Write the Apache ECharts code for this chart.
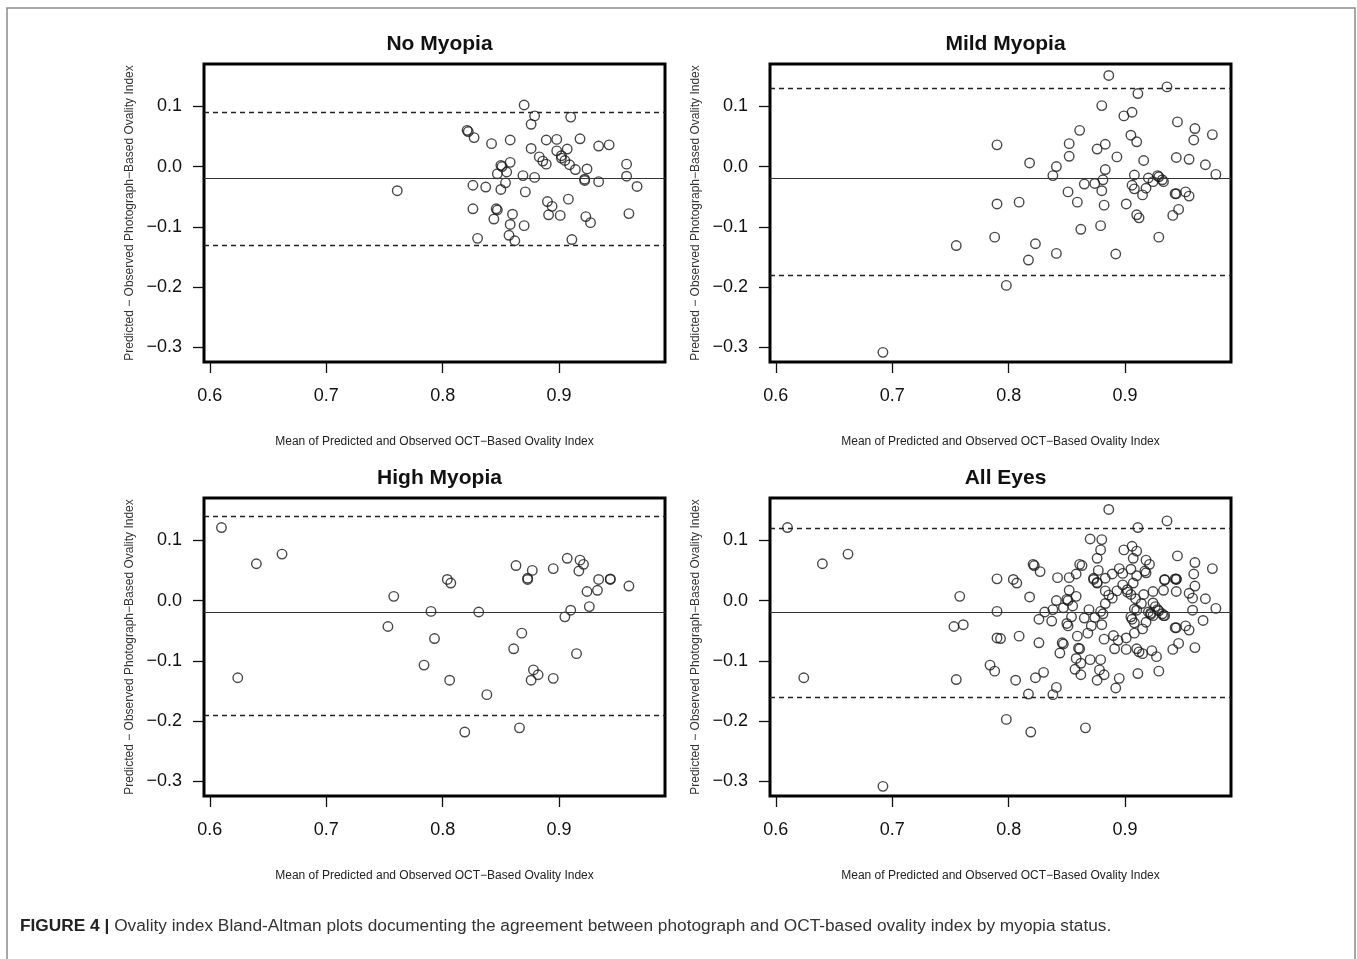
<!DOCTYPE html>
<html><head><meta charset="utf-8">
<script src="https://cdn.jsdelivr.net/npm/echarts@6/dist/echarts.min.js"></script>
<style>html,body{margin:0;padding:0;background:#fff}#c{width:1357px;height:959px}</style>
</head><body><div id="c"></div>
<script>
// ---------- data ----------
const panelTitles = ['No Myopia', 'Mild Myopia', 'High Myopia', 'All Eyes'];

// [mean of predicted & observed, predicted - observed]
const noMyopia = [
  [0.870,0.102],[0.879,0.084],[0.876,0.070],[0.910,0.082],[0.821,0.060],[0.822,0.058],
  [0.827,0.048],[0.842,0.038],[0.858,0.044],[0.889,0.044],[0.898,0.045],[0.918,0.046],
  [0.934,0.034],[0.943,0.036],[0.876,0.030],[0.898,0.026],[0.907,0.029],[0.883,0.016],
  [0.886,0.009],[0.889,0.004],[0.902,0.018],[0.902,0.014],[0.905,0.010],[0.909,0.003],
  [0.914,-0.005],[0.924,-0.004],[0.850,0.002],[0.851,0.000],[0.858,0.007],[0.847,-0.012],
  [0.855,-0.009],[0.869,-0.015],[0.879,-0.018],[0.922,-0.021],[0.922,-0.023],[0.958,0.004],
  [0.958,-0.016],[0.967,-0.033],[0.934,-0.025],[0.761,-0.040],[0.826,-0.031],[0.837,-0.034],
  [0.854,-0.027],[0.850,-0.038],[0.871,-0.042],[0.826,-0.070],[0.846,-0.070],[0.847,-0.072],
  [0.844,-0.087],[0.860,-0.079],[0.858,-0.096],[0.870,-0.098],[0.857,-0.114],[0.862,-0.123],
  [0.830,-0.119],[0.890,-0.058],[0.894,-0.066],[0.891,-0.080],[0.901,-0.081],[0.908,-0.054],
  [0.923,-0.083],[0.927,-0.093],[0.911,-0.121],[0.960,-0.078]
];
const mildMyopia = [
  [0.790,0.036],[0.790,-0.062],[0.788,-0.117],[0.755,-0.131],[0.692,-0.308],[0.798,-0.197],
  [0.886,0.151],[0.936,0.132],[0.911,0.121],[0.880,0.101],[0.899,0.084],[0.906,0.090],
  [0.945,0.074],[0.960,0.063],[0.959,0.044],[0.975,0.053],[0.861,0.060],[0.905,0.052],
  [0.910,0.041],[0.852,0.038],[0.883,0.037],[0.876,0.029],[0.852,0.017],[0.893,0.016],
  [0.916,0.010],[0.944,0.015],[0.955,0.012],[0.969,0.003],[0.978,-0.013],[0.818,0.006],
  [0.841,0.000],[0.838,-0.015],[0.883,-0.005],[0.881,-0.022],[0.865,-0.029],[0.874,-0.028],
  [0.880,-0.040],[0.908,-0.014],[0.906,-0.031],[0.908,-0.037],[0.918,-0.036],[0.915,-0.047],
  [0.920,-0.019],[0.924,-0.025],[0.928,-0.015],[0.929,-0.017],[0.932,-0.022],[0.933,-0.025],
  [0.943,-0.045],[0.944,-0.045],[0.952,-0.042],[0.955,-0.049],[0.946,-0.071],[0.941,-0.081],
  [0.851,-0.042],[0.859,-0.059],[0.882,-0.064],[0.901,-0.062],[0.910,-0.080],[0.912,-0.085],
  [0.809,-0.059],[0.862,-0.104],[0.879,-0.098],[0.823,-0.128],[0.817,-0.155],[0.841,-0.144],
  [0.892,-0.145],[0.929,-0.117]
];
const highMyopia = [
  [0.610,0.121],[0.640,0.061],[0.662,0.077],[0.624,-0.128],[0.758,0.007],[0.753,-0.043],
  [0.804,0.035],[0.807,0.029],[0.790,-0.018],[0.793,-0.063],[0.784,-0.107],[0.806,-0.132],
  [0.831,-0.019],[0.838,-0.156],[0.819,-0.218],[0.863,0.058],[0.873,0.037],[0.873,0.035],
  [0.877,0.050],[0.895,0.053],[0.907,0.070],[0.918,0.067],[0.921,0.060],[0.917,0.049],
  [0.934,0.035],[0.944,0.036],[0.944,0.035],[0.960,0.024],[0.924,0.015],[0.933,0.017],
  [0.926,-0.010],[0.910,-0.016],[0.905,-0.027],[0.868,-0.054],[0.861,-0.080],[0.915,-0.088],
  [0.878,-0.115],[0.882,-0.123],[0.876,-0.132],[0.895,-0.129],[0.866,-0.211]
];
const allEyes = noMyopia.concat(mildMyopia, highMyopia);

const meanDiff = [-0.0166, -0.0243, -0.0224, -0.0209];
const upperLoA = [0.0929, 0.1280, 0.1426, 0.1206];
const lowerLoA = [-0.1260, -0.1770, -0.1868, -0.1625];

const xTicks = [0.6, 0.7, 0.8, 0.9];
const yTicks = [-0.3, -0.2, -0.1, 0.0, 0.1];
const xRange = [0.595, 0.991];
const yRange = [-0.324, 0.170];

const xName = 'Mean of Predicted and Observed OCT\u2212Based Ovality Index';
const yName = 'Predicted \u2212 Observed Photograph\u2212Based Ovality Index';
const caption = 'Ovality index Bland-Altman plots documenting the agreement between photograph and OCT-based ovality index by myopia status.';

// ---------- layout ----------
const FONT = "'Liberation Sans', Arial, Helvetica, sans-serif";
const panelData = [noMyopia, mildMyopia, highMyopia, allEyes];
const gridPos = [
  {left: 204, top: 64}, {left: 770, top: 64},
  {left: 204, top: 498}, {left: 770, top: 498}
];
const GW = 461, GH = 298;

const fmt = v => (v < -1e-9 ? '\u2212' : '') + Math.abs(v).toFixed(1);

const grids = [], xAxes = [], yAxes = [], series = [], titles = [];
panelData.forEach((d, i) => {
  grids.push({left: gridPos[i].left, top: gridPos[i].top, width: GW, height: GH,
    show: true, borderColor: '#000', borderWidth: 3, backgroundColor: 'transparent', containLabel: false});
  xAxes.push({type: 'value', gridIndex: i, min: xRange[0], max: xRange[1], position: 'bottom',
    axisLine: {show: false, onZero: false}, splitLine: {show: false},
    axisTick: {show: true, length: 11, lineStyle: {color: '#111', width: 1.3}, customValues: xTicks},
    axisLabel: {show: true, customValues: xTicks, formatter: fmt, margin: 25, color: '#111', fontSize: 18, fontFamily: FONT},
    name: xName, nameLocation: 'middle', nameGap: 74,
    nameTextStyle: {fontSize: 12, color: '#222', fontFamily: FONT}});
  yAxes.push({type: 'value', gridIndex: i, min: yRange[0], max: yRange[1], position: 'left',
    axisLine: {show: false, onZero: false}, splitLine: {show: false},
    axisTick: {show: true, length: 11, lineStyle: {color: '#111', width: 1.3}, customValues: yTicks},
    axisLabel: {show: true, customValues: yTicks, formatter: fmt, margin: 22, color: '#111', fontSize: 18, fontFamily: FONT},
    name: yName, nameLocation: 'middle', nameRotate: 90, nameGap: 68,
    nameTextStyle: {fontSize: 12, color: '#333', fontFamily: FONT}});
  series.push({type: 'scatter', xAxisIndex: i, yAxisIndex: i, data: d,
    symbol: 'circle', symbolSize: 9.5, silent: true,
    itemStyle: {color: 'rgba(0,0,0,0)', borderColor: '#1a1a1a', borderWidth: 1.4},
    markLine: {silent: true, symbol: ['none', 'none'], label: {show: false},
      lineStyle: {color: '#222', width: 1.2},
      data: [
        {yAxis: meanDiff[i], lineStyle: {type: 'solid', color: '#333', width: 1.2}},
        {yAxis: upperLoA[i], lineStyle: {type: [5, 4], color: '#222', width: 1.3}},
        {yAxis: lowerLoA[i], lineStyle: {type: [5, 4], color: '#222', width: 1.3}}
      ]}});
  titles.push({text: panelTitles[i], left: gridPos[i].left + GW / 2, top: gridPos[i].top - 35,
    textAlign: 'center',
    textStyle: {fontSize: 21, fontWeight: 'bold', color: '#111', fontFamily: FONT}});
});

const chart = echarts.init(document.getElementById('c'), null, {renderer: 'canvas'});
chart.setOption({
  animation: false,
  backgroundColor: '#fff',
  title: titles,
  grid: grids,
  xAxis: xAxes,
  yAxis: yAxes,
  series: series,
  graphic: [
    {type: 'rect', shape: {x: 7, y: 8, width: 1348, height: 980},
      style: {fill: 'none', stroke: '#8a8a8a', lineWidth: 1.5}, silent: true},
    {type: 'text', left: 20, top: 918,
      style: {text: '{b|FIGURE 4 |} ' + caption, fontFamily: FONT, fontSize: 17.3, fill: '#333',
        rich: {b: {fontWeight: 'bold', fontSize: 17.3, fontFamily: FONT, fill: '#222'}}}}
  ]
});
</script></body></html>
